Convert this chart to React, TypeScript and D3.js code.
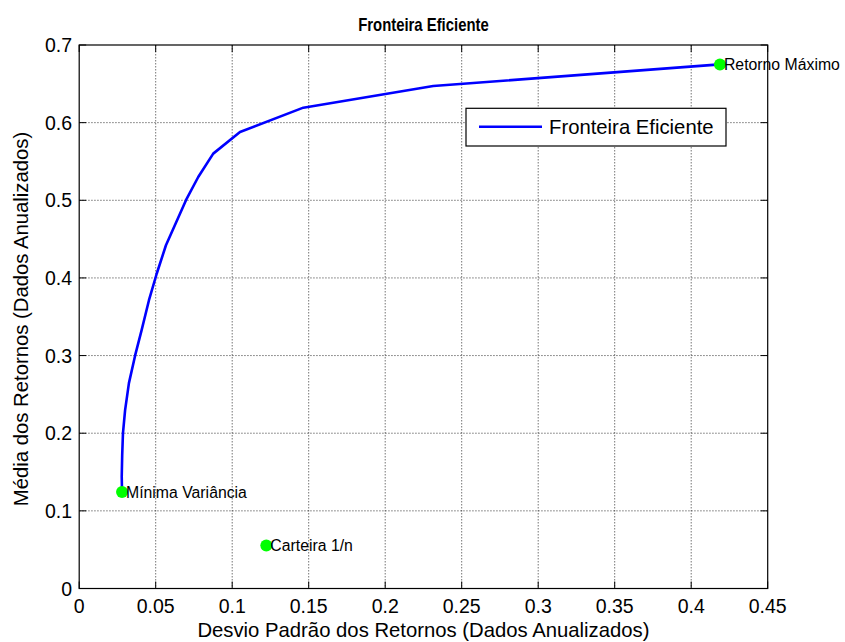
import React from "react";
import * as d3 from "d3";

const frontierRisk = [0.0280, 0.0278, 0.0281, 0.0286, 0.0300, 0.0325, 0.0366, 0.0408, 0.0456, 0.0507, 0.0567, 0.0703, 0.0778, 0.0876, 0.1051, 0.1465, 0.2314, 0.4188];
const frontierReturn = [0.1242, 0.1439, 0.1718, 0.1997, 0.2297, 0.2645, 0.3005, 0.3327, 0.3713, 0.4057, 0.4421, 0.5022, 0.5300, 0.5601, 0.5879, 0.6193, 0.6471, 0.6750];

const pointLabels = ["Mínima Variância", "Carteira 1/n", "Retorno Máximo"];
const pointRisk = [0.0280, 0.1223, 0.4188];
const pointReturn = [0.1242, 0.0554, 0.6750];

const xTicks = [0, 0.05, 0.1, 0.15, 0.2, 0.25, 0.3, 0.35, 0.4, 0.45];
const xTickLabels = ["0", "0.05", "0.1", "0.15", "0.2", "0.25", "0.3", "0.35", "0.4", "0.45"];
const yTicks = [0, 0.1, 0.2, 0.3, 0.4, 0.5, 0.6, 0.7];
const yTickLabels = ["0", "0.1", "0.2", "0.3", "0.4", "0.5", "0.6", "0.7"];

const title = "Fronteira Eficiente";
const xLabel = "Desvio Padrão dos Retornos (Dados Anualizados)";
const yLabel = "Média dos Retornos (Dados Anualizados)";
const legendLabel = "Fronteira Eficiente";

const W = 845, H = 642;
const L = 79.2, R = 767.7, T = 45, B = 588.5;
const FONT = "'Liberation Sans', Arial, Helvetica, sans-serif";

export default function App() {
  const x = d3.scaleLinear().domain([0, 0.45]).range([L, R]);
  const y = d3.scaleLinear().domain([0, 0.7]).range([B, T]);
  const data = frontierRisk.map((r, i) => [r, frontierReturn[i]] as [number, number]);
  const line = d3.line<[number, number]>().x(d => x(d[0])).y(d => y(d[1]));
  const tk = 7;
  const cx = (L + R) / 2;
  return (
    <svg width={W} height={H} style={{ position: "absolute", left: 0, top: 0, background: "#fff" }} fontFamily={FONT}>
      <rect x={0} y={0} width={W} height={H} fill="#fff" />
      {xTicks.slice(1, -1).map((t, i) => (
        <line key={"gx" + i} x1={x(t)} x2={x(t)} y1={T} y2={B} stroke="#000" strokeOpacity={0.55} strokeWidth={1} strokeDasharray="1.5 1.5" />
      ))}
      {yTicks.slice(1, -1).map((t, i) => (
        <line key={"gy" + i} x1={L} x2={R} y1={y(t)} y2={y(t)} stroke="#000" strokeOpacity={0.55} strokeWidth={1} strokeDasharray="1.5 1.5" />
      ))}
      {xTicks.map((t, i) => (
        <g key={"tx" + i}>
          <line x1={x(t)} x2={x(t)} y1={B} y2={B - tk} stroke="#000" />
          <line x1={x(t)} x2={x(t)} y1={T} y2={T + tk} stroke="#000" />
          <text x={x(t)} y={613} textAnchor="middle" fontSize={19.5} fill="#000">{xTickLabels[i]}</text>
        </g>
      ))}
      {yTicks.map((t, i) => (
        <g key={"ty" + i}>
          <line x1={L} x2={L + tk} y1={y(t)} y2={y(t)} stroke="#000" />
          <line x1={R} x2={R - tk} y1={y(t)} y2={y(t)} stroke="#000" />
          <text x={72} y={y(t) + 7} textAnchor="end" fontSize={19.5} fill="#000">{yTickLabels[i]}</text>
        </g>
      ))}
      <rect x={L} y={T} width={R - L} height={B - T} fill="none" stroke="#000" strokeWidth={1.2} />
      <path d={line(data) || ""} fill="none" stroke="#0000ff" strokeWidth={2.6} strokeLinejoin="round" />
      {pointLabels.map((lab, i) => (
        <g key={"p" + i}>
          <circle cx={x(pointRisk[i])} cy={y(pointReturn[i])} r={6} fill="#00ff00" />
          <text x={x(pointRisk[i]) + 4} y={y(pointReturn[i]) + 5.5} fontSize={15.8} fill="#000">{lab}</text>
        </g>
      ))}
      <rect x={466} y={108.3} width={260} height={37.7} fill="#fff" stroke="#000" strokeWidth={1.2} />
      <line x1={479} x2={542} y1={126.7} y2={126.7} stroke="#0000ff" strokeWidth={2.6} />
      <text x={549} y={134} fontSize={20.3} fill="#000">{legendLabel}</text>
      <text transform={`translate(${cx}, 31) scale(0.85, 1)`} textAnchor="middle" fontSize={17.5} fontWeight="bold" fill="#000">{title}</text>
      <text x={cx} y={637} textAnchor="middle" fontSize={20.3} fill="#000">{xLabel}</text>
      <text transform={`translate(28, 319) rotate(-90)`} textAnchor="middle" fontSize={20.3} fill="#000">{yLabel}</text>
    </svg>
  );
}
